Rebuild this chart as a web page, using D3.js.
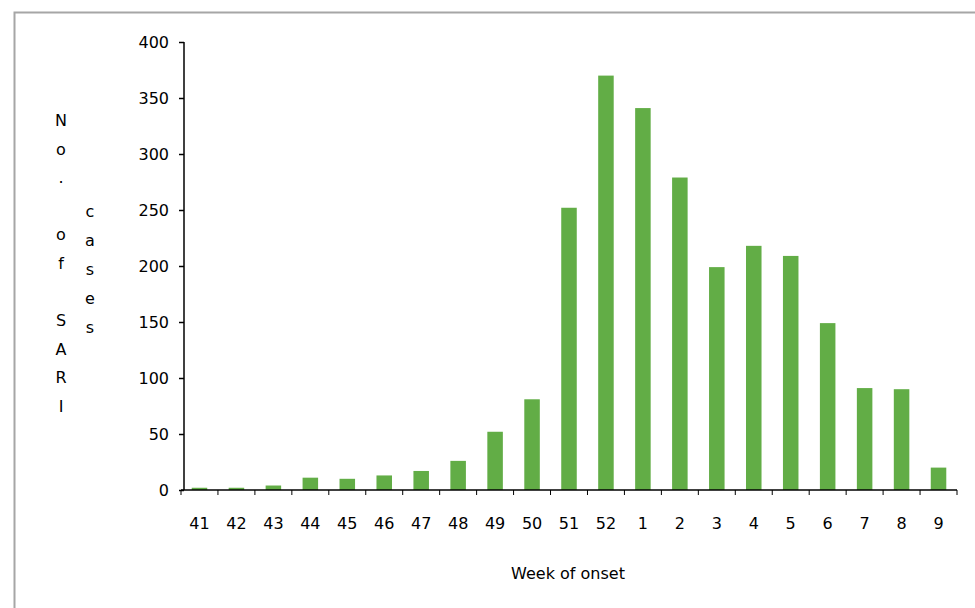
<!DOCTYPE html>
<html><head><meta charset="utf-8">
<script src="https://cdn.jsdelivr.net/npm/d3@7"></script>
<style>body{margin:0;background:#fff}text{font-family:"DejaVu Sans",Verdana,sans-serif}</style>
</head><body>
<script>
var weeks = ['41','42','43','44','45','46','47','48','49','50','51','52','1','2','3','4','5','6','7','8','9'];
var cases = [2,2,4,11,10,13,17,26,52,81,252,370,341,279,199,218,209,149,91,90,20];
var yTicks = [0,50,100,150,200,250,300,350,400];

var svg = d3.select('body').append('svg').attr('width',975).attr('height',608);
svg.append('rect').attr('x',14.5).attr('y',12.5).attr('width',980).attr('height',620)
  .attr('fill','none').attr('stroke','#a6a6a6').attr('stroke-width',2);

var x = d3.scaleBand().domain(weeks).range([181,957]).paddingInner(0.58).paddingOuter(0.29);
var y = d3.scaleLinear().domain([0,400]).range([490,42]);

svg.selectAll('rect.bar').data(cases).enter().append('rect').attr('class','bar')
  .attr('x',function(d,i){return x(weeks[i]);})
  .attr('width',x.bandwidth())
  .attr('y',function(d){return y(d);})
  .attr('height',function(d){return y(0)-y(d);})
  .attr('fill','#62ad46');

var ya = svg.append('g').attr('transform','translate(184,0)')
  .call(d3.axisLeft(y).tickValues(yTicks).tickSize(5).tickPadding(10));
ya.select('.domain').attr('d','M0,42V490');
var xa = svg.append('g').attr('transform','translate(0,490)')
  .call(d3.axisBottom(x).tickSize(0).tickPadding(28));
xa.select('.domain').attr('d','M181,0H957');
var step = x.step();
var first = x(weeks[0]) - step*x.paddingInner()/2;
xa.selectAll('line.sep').data(d3.range(weeks.length+1)).enter().append('line')
  .attr('x1',function(i){return first + i*step;})
  .attr('x2',function(i){return first + i*step;})
  .attr('y1',0).attr('y2',5).attr('stroke','#000');
svg.selectAll('.tick text').attr('font-size',16).attr('fill','#000');
svg.selectAll('.domain,.tick line').attr('stroke','#000').attr('stroke-width',1.5);

svg.append('text').attr('x',568).attr('y',579).attr('text-anchor','middle').attr('font-size',16).text('Week of onset');

var col1 = ['N','o','.','','o','f','','S','A','R','I'];
svg.selectAll('text.c1').data(col1).enter().append('text').attr('class','c1')
  .attr('x',61).attr('y',function(d,i){return 126+i*28.6;}).attr('text-anchor','middle').attr('font-size',16).text(function(d){return d;});
var col2 = ['c','a','s','e','s'];
svg.selectAll('text.c2').data(col2).enter().append('text').attr('class','c2')
  .attr('x',90).attr('y',function(d,i){return 217+i*29;}).attr('text-anchor','middle').attr('font-size',16).text(function(d){return d;});
</script>
</body></html>
